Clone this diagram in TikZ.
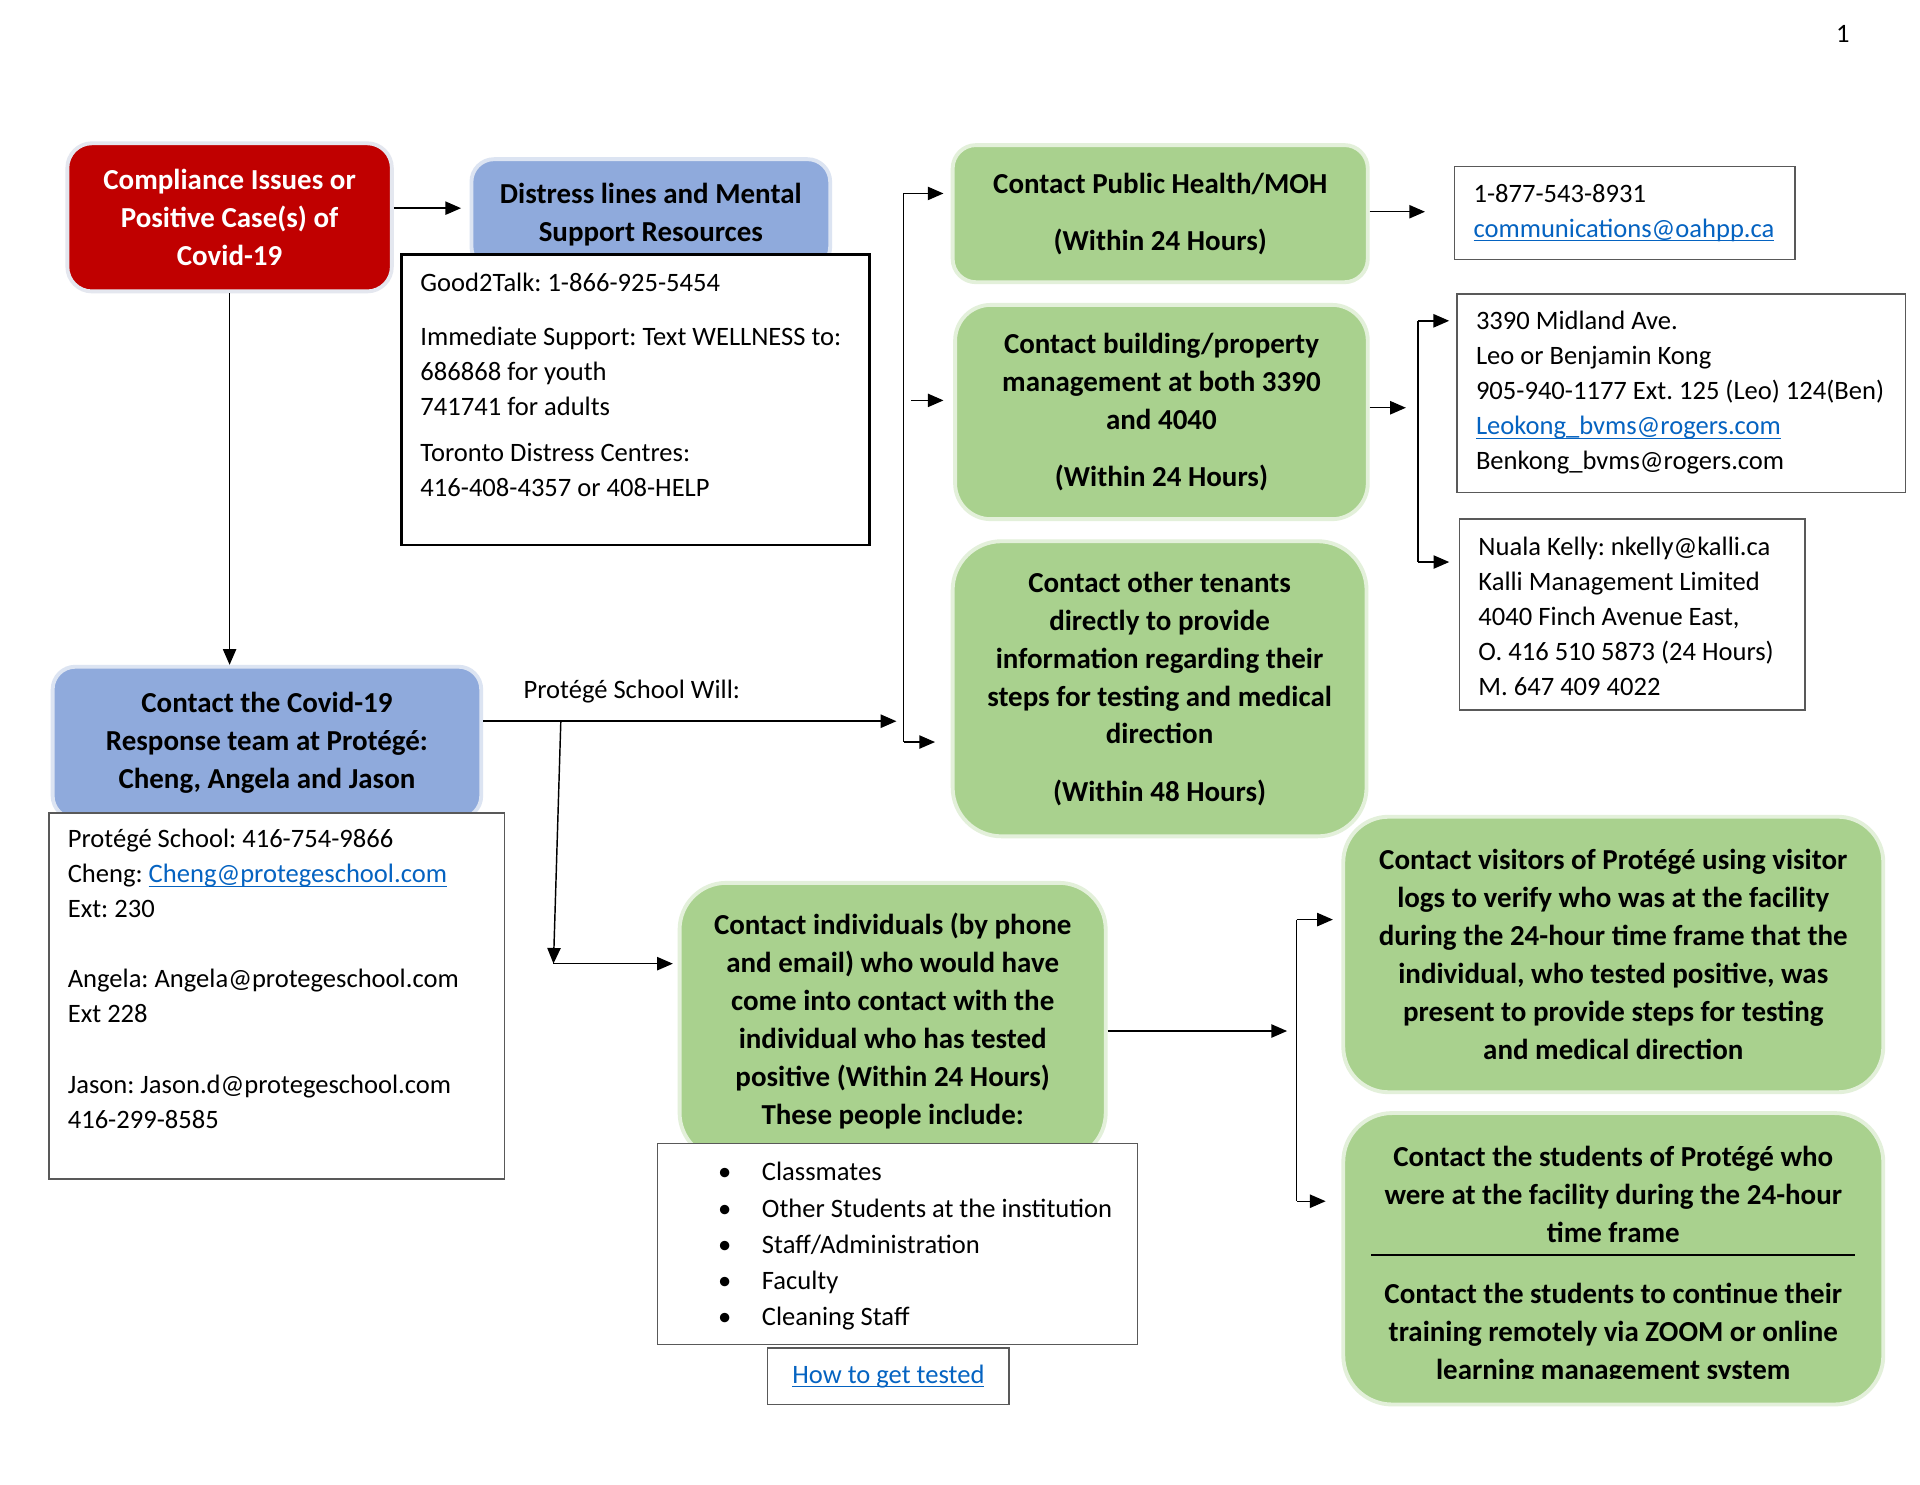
\documentclass[tikz,border=0pt]{standalone}
\usepackage{fontspec}
\setmainfont{Carlito}
\usetikzlibrary{positioning,calc,arrows.meta}

\definecolor{casered}{HTML}{C00000}
\definecolor{caseredge}{HTML}{E4E7EF}
\definecolor{teamblue}{HTML}{8FAADC}
\definecolor{teamedge}{HTML}{DCE4F2}
\definecolor{stepgreen}{HTML}{A9D18E}
\definecolor{stepedge}{HTML}{E3F0DA}
\definecolor{linkblue}{HTML}{0563C1}

\newcommand{\pxu}{0.01782cm}
\newcommand{\boxheadfont}{\fontsize{12}{15.7}\selectfont\bfseries}
\newcommand{\boxbodyfont}{\fontsize{11}{14.5}\selectfont}
\newcommand{\weblink}[1]{\textcolor{linkblue}{\setbox0\hbox{#1}\rlap{\rule[-1.7pt]{\wd0}{0.55pt}}\box0}}
\frenchspacing

\begin{document}
\begin{tikzpicture}[x=\pxu, y=-\pxu,
    boxsize/.style 2 args={minimum width=#1*\pxu, minimum height=#2*\pxu},
    headtext/.style={align=center, font=\boxheadfont, inner sep=0pt},
    headbox/.style={headtext, line width=1.6pt},
    redbox/.style={headbox, fill=casered, draw=caseredge, text=white, rounded corners=0.36cm},
    bluebox/.style={headbox, fill=teamblue, draw=teamedge, rounded corners=0.33cm},
    greenbox/.style={headbox, fill=stepgreen, draw=stepedge},
    infobox/.style={draw=black!65, line width=0.6pt, fill=white, inner sep=0pt},
    infotext/.style={font=\boxbodyfont, align=left, inner sep=0pt, anchor=north west},
    arrow/.style={-{Triangle[length=6.5pt,width=5.5pt]}, line width=0.6pt}
]
    \useasboundingbox[fill=white] (0,0) rectangle (1568,1212);

    \node[font=\boxbodyfont] (page) at (1505,28) {1};

    \node[redbox, boxsize={265}{121}] (issue) at (187.5,177.5) {Compliance Issues or\\Positive Case(s) of\\Covid-19};

    \node[bluebox, boxsize={293}{90}] (distresshead) at (531.5,175) {Distress lines and Mental\\Support Resources};
    \node[infobox, draw=black, line width=1pt, boxsize={382}{237}] (distress) at (519,326.5) {};
    \node[infotext] (distresstext) at (343,223) {Good2Talk: 1-866-925-5454\\[7.8pt]
        Immediate Support: Text WELLNESS to:\\
        686868 for youth\\
        741741 for adults\\[4.3pt]
        Toronto Distress Centres:\\
        416-408-4357 or 408-HELP};

    \node[bluebox, boxsize={350}{124}] (team) at (218,606.5) {Contact the Covid-19\\Response team at Protégé:\\Cheng, Angela and Jason};
    \node[infobox, boxsize={372}{299}] (teaminfo) at (226,813.5) {};
    \node[infotext] (teamtext) at (55,677) {Protégé School: 416-754-9866\\
        Cheng: \weblink{Cheng@protegeschool.com}\\
        Ext: 230\\[14.5pt]
        Angela: Angela@protegeschool.com\\
        Ext 228\\[14.5pt]
        Jason: Jason.d@protegeschool.com\\
        416-299-8585};

    \node[font=\boxbodyfont] (willlabel) at (516,565) {Protégé School Will:};

    \node[greenbox, rounded corners=0.34cm, boxsize={339}{112}] (health) at (947.5,174.5) {Contact Public Health/MOH\\[8pt](Within 24 Hours)};
    \node[infobox, boxsize={278}{76}] (phone) at (1327,174) {};
    \node[infotext] (phonetext) at (1203,150) {1-877-543-8931\\\weblink{communications@oahpp.ca}};

    \node[greenbox, rounded corners=0.52cm, boxsize={337}{175}] (building) at (948.5,336.5) {Contact building/property\\management at both 3390\\and 4040\\[8pt](Within 24 Hours)};
    \node[infobox, boxsize={366}{162}] (midland) at (1373,321) {};
    \node[infotext] (midlandtext) at (1205,254) {3390 Midland Ave.\\
        Leo or Benjamin Kong\\
        905-940-1177 Ext. 125 (Leo) 124(Ben)\\
        \weblink{Leokong\_bvms@rogers.com}\\
        Benkong\_bvms@rogers.com};
    \node[infobox, boxsize={282}{156}] (kalli) at (1333,502) {};
    \node[infotext] (kallitext) at (1207,438) {Nuala Kelly: nkelly@kalli.ca\\
        Kalli Management Limited\\
        4040 Finch Avenue East,\\
        O. 416 510 5873 (24 Hours)\\
        M. 647 409 4022};

    \node[greenbox, rounded corners=0.71cm, boxsize={338}{241}] (tenants) at (947,562.5) {Contact other tenants\\directly to provide\\information regarding their\\steps for testing and medical\\direction\\[8pt](Within 48 Hours)};

    \node[greenbox, rounded corners=0.68cm, boxsize={348}{226}] (contact) at (729,834) {Contact individuals (by phone\\and email) who would have\\come into contact with the\\individual who has tested\\positive (Within 24 Hours)\\These people include:};
    \node[infobox, boxsize={392}{164}] (people) at (733,1016) {};
    \node[infotext, font=\fontsize{11}{15}\selectfont] (peopletext) at (586,949) {\makebox[18.2pt][l]{\textbullet}Classmates\\
        \makebox[18.2pt][l]{\textbullet}Other Students at the institution\\
        \makebox[18.2pt][l]{\textbullet}Staff/Administration\\
        \makebox[18.2pt][l]{\textbullet}Faculty\\
        \makebox[18.2pt][l]{\textbullet}Cleaning Staff};
    \node[infobox, font=\boxbodyfont, boxsize={197}{46}] (tested) at (725.5,1124) {\weblink{How to get tested}\hspace{4.5pt}};

    \node[greenbox, rounded corners=0.66cm, boxsize={441}{225}] (visitors) at (1317.5,779.5) {Contact visitors of Protégé using visitor\\logs to verify who was at the facility\\during the 24-hour time frame that the\\individual, who tested positive, was\\present to provide steps for testing\\and medical direction};
    \node[greenbox, rounded corners=0.71cm, boxsize={441}{238}] (students) at (1317.5,1028) {};
    \node[headtext] (studentstop) at (1317.5,975.5) {Contact the students of Protégé who\\were at the facility during the 24-hour\\time frame};
    \draw[line width=0.9pt] (1120,1025) -- (1515,1025);
    \begin{scope}
        \clip (1097,909) rectangle (1538,1126);
        \node[headtext] (studentsbottom) at (1317.5,1089.5) {Contact the students to continue their\\training remotely via ZOOM or online\\learning management system};
    \end{scope}

    \coordinate (will) at (738,589);
    \coordinate (branch) at (458,589);
    \coordinate (drop) at (452,787);
    \coordinate (spinetop) at (738,158);
    \coordinate (spinemid) at (744,327);
    \coordinate (spinebot) at (738,606);
    \coordinate (bmmid) at (1158,333);
    \coordinate (bmtop) at (1158,262);
    \coordinate (bmbot) at (1158,459);
    \coordinate (vsmid) at (1059,842);
    \coordinate (vstop) at (1059,751);
    \coordinate (vsbot) at (1059,981);

    \draw[arrow, shorten >=3.5pt] ([yshift=3.8pt]issue.east) -- ([yshift=3.8pt]issue.east -| distresshead.west);
    \draw[arrow] (issue.south) -- (issue.south |- team.north);
    \draw[arrow, shorten >=3pt] (team.east |- will) -- (will);
    \draw[arrow] (branch) -- (drop);
    \draw[arrow, shorten >=2pt] (drop) -- (drop -| contact.west);

    \draw[line width=0.6pt] (spinetop) -- (spinebot);
    \draw[arrow, shorten >=3pt] (spinetop) -- (spinetop -| health.west);
    \draw[arrow, shorten >=4pt] (spinemid) -- (spinemid -| building.west);
    \draw[arrow, shorten >=6.5pt] (spinebot) -- (spinebot -| tenants.west);

    \draw[arrow, shorten >=12pt] ([yshift=0.8pt]health.east) -- ([yshift=0.8pt]health.east -| phone.west);
    \draw[arrow, shorten >=5pt] (building.east |- bmmid) -- (bmmid);
    \draw[line width=0.6pt] (bmtop) -- (bmbot);
    \draw[arrow, shorten >=3pt] (bmtop) -- (bmtop -| midland.west);
    \draw[arrow, shorten >=4pt] (bmbot) -- (bmbot -| kalli.west);

    \draw[arrow, shorten >=4pt] (contact.east |- vsmid) -- (vsmid);
    \draw[line width=0.6pt] (vstop) -- (vsbot);
    \draw[arrow, shorten >=3.5pt] (vstop) -- (vstop -| visitors.west);
    \draw[arrow, shorten >=6.5pt] (vsbot) -- (vsbot -| students.west);
\end{tikzpicture}
\end{document}
